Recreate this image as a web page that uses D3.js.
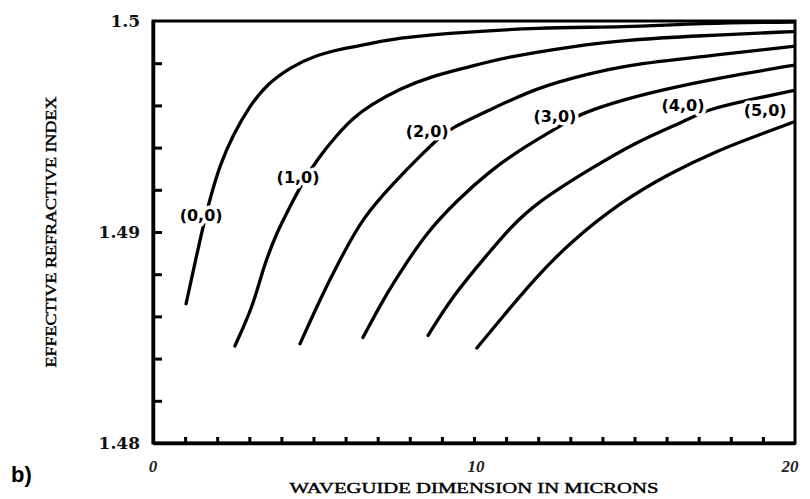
<!DOCTYPE html>
<html>
<head>
<meta charset="utf-8">
<script src="https://cdn.jsdelivr.net/npm/d3@7"></script>
<style>
html,body{margin:0;padding:0;background:#fff;}
svg{display:block;}
</style>
</head>
<body>
<svg id="chart" width="810" height="499"></svg>
<script>
// ---- data ----
const modeNames = ["(0,0)", "(1,0)", "(2,0)", "(3,0)", "(4,0)", "(5,0)"];
const mode00 = [[1.03,1.4866],[1.56,1.4903],[1.78,1.4916],[2.09,1.4932],[2.49,1.4946],[3.02,1.4960],[3.55,1.4970],[4.27,1.4978],[5.11,1.4984],[5.92,1.4987],[6.67,1.4989],[7.69,1.4992],[8.94,1.4994],[12.06,1.4997],[14.70,1.4997],[17.04,1.4999],[19.94,1.49995]];
const mode10 = [[2.55,1.4846],[3.12,1.4865],[3.43,1.4883],[3.86,1.4900],[4.27,1.4912],[4.64,1.4923],[5.14,1.4935],[5.73,1.4946],[6.23,1.4954],[6.76,1.4960],[7.69,1.4968],[8.72,1.4974],[9.78,1.4978],[11.03,1.4983],[13.08,1.4988],[14.70,1.4991],[17.04,1.4993],[19.94,1.4995]];
const mode20 = [[4.58,1.4847],[5.20,1.4868],[5.83,1.4887],[6.54,1.4907],[7.48,1.4923],[8.32,1.4936],[8.94,1.4945],[9.25,1.4949],[10.50,1.4958],[12.06,1.4969],[13.61,1.4975],[14.70,1.4979],[17.04,1.4983],[19.94,1.4988]];
const mode30 = [[6.54,1.4850],[7.17,1.4868],[7.79,1.4883],[8.54,1.4900],[9.47,1.4915],[10.50,1.4929],[11.53,1.4940],[12.77,1.4951],[13.30,1.4956],[14.70,1.4963],[16.32,1.4969],[18.38,1.4975],[19.94,1.4979]];
const mode40 = [[8.57,1.4851],[9.35,1.4870],[10.40,1.4889],[11.12,1.4902],[11.96,1.4914],[13.52,1.4929],[15.08,1.4943],[16.64,1.4953],[17.26,1.4958],[18.38,1.4962],[19.94,1.4967]];
const mode50 = [[10.09,1.4845],[10.90,1.4860],[11.96,1.4879],[12.99,1.4895],[14.55,1.4914],[16.11,1.4928],[17.66,1.4939],[18.69,1.4945],[19.94,1.4952]];
const modeSeries = [mode00, mode10, mode20, mode30, mode40, mode50];
const labelPos = [[1.50,1.4908],[4.52,1.4926],[8.54,1.4948],[12.52,1.4955],[16.51,1.4960],[19.07,1.4958]];

const xTickLabels = [0, 10, 20];
const xMinorTicks = [1,2,3,4,5,6,7,8,9,10,11,12,13,14,15,16,17,18,19];
const yTickLabels = [1.48, 1.49, 1.5];
const yMinorTicks = [1.482,1.484,1.486,1.488,1.490,1.492,1.494,1.496,1.498];
const xTitle = "WAVEGUIDE DIMENSION IN MICRONS";
const yTitle = "EFFECTIVE REFRACTIVE INDEX";
const panelTag = "b)";

// ---- layout ----
const L = 153, R = 795, T = 21, B = 443;
const svg = d3.select("#chart");
const x = d3.scaleLinear().domain([0, 20]).range([L, R]);
const y = d3.scaleLinear().domain([1.48, 1.5]).range([B, T]);

// curves
const line = d3.line().x(d => x(d[0])).y(d => y(d[1])).curve(d3.curveBasis);
svg.append("g").selectAll("path").data(modeSeries).join("path")
  .attr("d", line)
  .attr("fill", "none")
  .attr("stroke", "#000")
  .attr("stroke-width", 3.3)
  .attr("stroke-linecap", "round")
  .attr("stroke-linejoin", "round");

// frame
svg.append("rect").attr("x", L).attr("y", T).attr("width", R - L).attr("height", B - T)
  .attr("fill", "none").attr("stroke", "#000").attr("stroke-width", 3);

// left ticks (inward)
const yAxis = d3.axisLeft(y).tickValues(yMinorTicks).tickSize(-9).tickSizeOuter(0).tickFormat("");
const gy = svg.append("g").attr("transform", `translate(${L},0)`).call(yAxis);
gy.select(".domain").attr("stroke-width", 3.5);
gy.selectAll(".tick line").attr("stroke-width", 3);

// bottom ticks (inward)
const xAxis = d3.axisBottom(x).tickValues(xMinorTicks).tickSize(-6).tickSizeOuter(0).tickFormat("");
const gx = svg.append("g").attr("transform", `translate(0,${B})`).call(xAxis);
gx.select(".domain").attr("stroke-width", 3.5);
gx.selectAll(".tick line").attr("stroke-width", 3);

// y tick labels
svg.append("g").selectAll("text").data(yTickLabels).join("text")
  .attr("x", L - 13)
  .attr("y", d => y(d) + 6)
  .attr("text-anchor", "end")
  .attr("font-family", "DejaVu Serif, serif")
  .attr("font-size", 17)
  .attr("font-weight", "bold")
  .attr("fill", "#111")
  .text(d => String(d));

// x tick labels
svg.append("g").selectAll("text").data(xTickLabels).join("text")
  .attr("x", d => x(d) - (d === 20 ? 5 : 0) + (d === 10 ? 2 : 0))
  .attr("y", B + 29)
  .attr("text-anchor", "middle")
  .attr("font-family", "Liberation Serif, serif")
  .attr("font-style", "italic")
  .attr("font-weight", "bold")
  .attr("font-size", 17)
  .attr("fill", "#222")
  .text(d => String(d));

// axis titles
svg.append("text")
  .attr("x", (L + R) / 2).attr("y", 493)
  .attr("text-anchor", "middle")
  .attr("font-family", "Liberation Serif, serif")
  .attr("font-size", 15)
  .attr("stroke", "#000").attr("stroke-width", 0.4)
  .attr("textLength", 369).attr("lengthAdjust", "spacingAndGlyphs")
  .attr("fill", "#000")
  .text(xTitle);

svg.append("text")
  .attr("transform", `translate(56,${(T + B) / 2}) rotate(-90)`)
  .attr("text-anchor", "middle")
  .attr("font-family", "Liberation Serif, serif")
  .attr("font-size", 14)
  .attr("stroke", "#000").attr("stroke-width", 0.4)
  .attr("textLength", 271).attr("lengthAdjust", "spacingAndGlyphs")
  .attr("fill", "#000")
  .text(yTitle);

// panel tag
svg.append("text")
  .attr("x", 11).attr("y", 482)
  .attr("font-family", "Liberation Sans, sans-serif")
  .attr("font-weight", "bold")
  .attr("font-size", 22)
  .attr("fill", "#000")
  .text(panelTag);

// curve labels with white halo that breaks the curves
svg.append("g").selectAll("text").data(modeNames).join("text")
  .attr("x", (d, i) => x(labelPos[i][0]))
  .attr("y", (d, i) => y(labelPos[i][1]) + 6)
  .attr("text-anchor", "middle")
  .attr("font-family", "DejaVu Sans, sans-serif")
  .attr("font-weight", "bold")
  .attr("font-size", 16)
  .attr("fill", "#000")
  .attr("stroke", "#fff")
  .attr("stroke-width", 7)
  .attr("paint-order", "stroke")
  .attr("stroke-linejoin", "round")
  .text(d => d);
</script>
</body>
</html>
